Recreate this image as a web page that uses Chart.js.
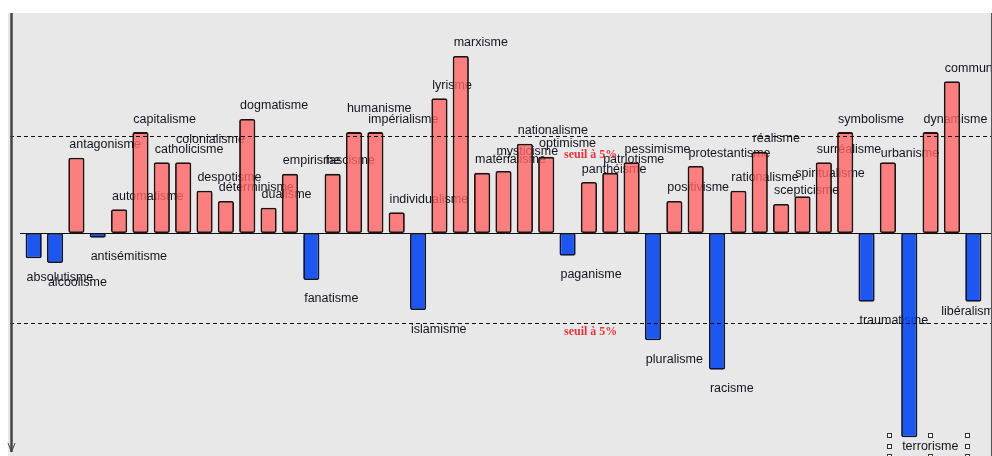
<!DOCTYPE html>
<html>
<head>
<meta charset="utf-8">
<script src="https://cdn.jsdelivr.net/npm/chart.js@4.4.0/dist/chart.umd.min.js"></script>
<style>
    html, body { margin: 0; padding: 0; background: #fff; }
    canvas { display: block; }
</style>
</head>
<body>
<canvas id="chart" width="992" height="456"></canvas>
<script>
// mots (ordre alphabétique) et leurs scores de spécificité
const mots = [
    'absolutisme', 'alcoolisme', 'antagonisme', 'antisémitisme', 'automatisme',
    'capitalisme', 'catholicisme', 'colonialisme', 'despotisme', 'déterminisme',
    'dogmatisme', 'dualisme', 'empirisme', 'fanatisme', 'fascisme',
    'humanisme', 'impérialisme', 'individualisme', 'islamisme', 'lyrisme',
    'marxisme', 'matérialisme', 'mysticisme', 'nationalisme', 'optimisme',
    'paganisme', 'panthéisme', 'patriotisme', 'pessimisme', 'pluralisme',
    'positivisme', 'protestantisme', 'racisme', 'rationalisme', 'réalisme',
    'scepticisme', 'spiritualisme', 'surréalisme', 'symbolisme', 'traumatisme',
    'urbanisme', 'terrorisme', 'dynamisme', 'communisme', 'libéralisme'
];

const scores = [
    -0.52, -0.62, 1.55, -0.10, 0.49,
    2.08, 1.46, 1.46, 0.87, 0.66,
    2.35, 0.52, 1.22, -0.97, 1.22,
    2.08, 2.08, 0.43, -1.59, 2.78,
    3.65, 1.24, 1.28, 1.84, 1.57,
    -0.47, 1.05, 1.24, 1.46, -2.21,
    0.66, 1.38, -2.82, 0.87, 1.67,
    0.60, 0.76, 1.46, 2.08, -1.42,
    1.46, -4.21, 2.08, 3.13, -1.42
];

// seuils de significativité
const seuils = [2.0, -1.86];
const seuilTexte = 'seuil à 5%';

// petits décalages des étiquettes qui se chevauchent
const labelNudge = {
    'colonialisme': [0, -10],
    'humanisme': [0, -11],
    'mysticisme': [0, -6],
    'spiritualisme': [0, -10],
    'urbanisme': [0, 4],
    'terrorisme': [0, -10],
    'libéralisme': [-25, -9]
};

const PLOT = { left: 8, top: 13, right: 991, bottom: 456 };

const decorPlugin = {
    id: 'decor',
    beforeDraw(chart) {
        const ctx = chart.ctx;
        ctx.save();
        ctx.fillStyle = '#ffffff';
        ctx.fillRect(0, 0, chart.width, chart.height);
        ctx.fillStyle = '#e8e8e8';
        ctx.fillRect(PLOT.left, PLOT.top, PLOT.right - PLOT.left, PLOT.bottom - PLOT.top);
        ctx.restore();
    },
    beforeDatasetsDraw(chart) {
        // étiquettes sous les barres (les barres sont semi-transparentes)
        const ctx = chart.ctx;
        const meta = chart.getDatasetMeta(0);
        ctx.save();
        ctx.beginPath();
        ctx.rect(PLOT.left, PLOT.top, PLOT.right - PLOT.left, PLOT.bottom - PLOT.top);
        ctx.clip();
        ctx.font = '12.5px "Liberation Sans", Arial, sans-serif';
        ctx.fillStyle = '#141420';
        ctx.textBaseline = 'middle';
        ctx.textAlign = 'left';
        meta.data.forEach((bar, i) => {
            const v = scores[i];
            const nudge = labelNudge[mots[i]] || [0, 0];
            const x = bar.x - bar.width / 2 + 1 + nudge[0];
            const y = (v >= 0 ? bar.y - 13 : bar.y + 19) + nudge[1];
            ctx.fillText(mots[i], x, y);
            if (mots[i] === 'terrorisme') {
                // poignées de sélection autour de l'étiquette
                const w = ctx.measureText(mots[i]).width;
                const hx = [x - 13, x + w / 2, x + w + 9];
                const hy = [y - 11, y, y + 10];
                ctx.save();
                ctx.strokeStyle = '#333';
                ctx.fillStyle = '#fff';
                ctx.lineWidth = 1;
                hx.forEach((px, a) => {
                    hy.forEach((py, b) => {
                        if (a === 1 && b === 1) return;
                        ctx.fillRect(Math.round(px) - 2, Math.round(py) - 2, 5, 5);
                        ctx.strokeRect(Math.round(px) - 1.5, Math.round(py) - 1.5, 4, 4);
                    });
                });
                ctx.restore();
            }
        });
        ctx.restore();
    },
    afterDatasetsDraw(chart) {
        const ctx = chart.ctx;
        const y = chart.scales.y;
        ctx.save();

        // ligne du zéro
        ctx.strokeStyle = '#111';
        ctx.lineWidth = 1;
        const y0 = Math.round(y.getPixelForValue(0)) + 0.5;
        ctx.beginPath();
        ctx.moveTo(20, y0);
        ctx.lineTo(PLOT.right, y0);
        ctx.stroke();

        // lignes de seuil
        ctx.setLineDash([4, 3]);
        ctx.strokeStyle = '#111';
        seuils.forEach(s => {
            const ys = Math.round(y.getPixelForValue(s)) + 0.5;
            ctx.beginPath();
            ctx.moveTo(10, ys);
            ctx.lineTo(PLOT.right, ys);
            ctx.stroke();
        });
        ctx.setLineDash([]);

        ctx.font = 'bold 12px "Liberation Serif", "Times New Roman", serif';
        ctx.fillStyle = '#e8343a';
        ctx.textAlign = 'left';
        ctx.textBaseline = 'middle';
        seuils.forEach(s => {
            const ys = y.getPixelForValue(s);
            ctx.fillText(seuilTexte, 564, ys + (s > 0 ? 19 : 9));
        });

        // axe vertical gauche avec flèche
        ctx.strokeStyle = '#444';
        ctx.lineWidth = 2.5;
        ctx.beginPath();
        ctx.moveTo(11.5, PLOT.top);
        ctx.lineTo(11.5, 452);
        ctx.stroke();
        ctx.lineWidth = 1;
        ctx.beginPath();
        ctx.moveTo(8, 443);
        ctx.lineTo(11.5, 452);
        ctx.lineTo(15, 443);
        ctx.stroke();

        // bord droit
        ctx.strokeStyle = '#555';
        ctx.beginPath();
        ctx.moveTo(991.5, PLOT.top);
        ctx.lineTo(991.5, PLOT.bottom);
        ctx.stroke();

        ctx.restore();
    }
};

const ctx = document.getElementById('chart').getContext('2d');

new Chart(ctx, {
    type: 'bar',
    data: {
        labels: mots,
        datasets: [{
            data: scores,
            backgroundColor: scores.map(v => v >= 0 ? 'rgba(255, 100, 100, 0.8)' : 'rgba(0, 66, 241, 0.87)'),
            borderColor: scores.map(v => v >= 0 ? '#241010' : '#0b1636'),
            borderWidth: 1.8,
            borderRadius: 2,
            borderSkipped: false,
            barPercentage: 0.76,
            categoryPercentage: 1.0
        }]
    },
    options: {
        responsive: false,
        animation: false,
        devicePixelRatio: 1,
        layout: {
            padding: { left: 23, right: 8, top: 13, bottom: 0 }
        },
        plugins: {
            legend: { display: false },
            tooltip: { enabled: false }
        },
        scales: {
            x: {
                display: false,
                grid: { display: false }
            },
            y: {
                display: false,
                min: -4.598,
                max: 4.536,
                grid: { display: false }
            }
        }
    },
    plugins: [decorPlugin]
});
</script>
</body>
</html>
